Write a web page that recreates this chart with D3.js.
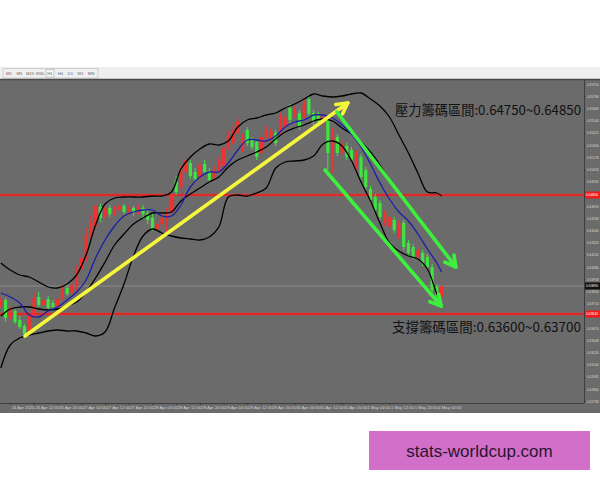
<!DOCTYPE html>
<html><head><meta charset="utf-8">
<script src="https://cdn.jsdelivr.net/npm/d3@7"></script>
<style>body{margin:0;background:#fff}svg{display:block}</style>
</head><body>
<svg id="c" width="600" height="480"></svg>
<script>
// ---- data (AUDUSD H1, prices) ----
const opens =[0.6369,0.6375,0.6357,0.6364,0.6355,0.6349,0.6342,0.6359,0.6378,0.6370,0.6376,0.6372,0.6368,0.6376,0.6387,0.6382,0.6389,0.6406,0.6417,0.6439,0.6449,0.6468,0.6458,0.6467,0.6461,0.6465,0.6469,0.6463,0.6467,0.6462,0.6467,0.6462,0.6457,0.6446,0.6451,0.6455,0.6462,0.6494,0.6488,0.6503,0.6512,0.6503,0.6498,0.6511,0.6504,0.6497,0.6504,0.6509,0.6527,0.6532,0.6542,0.6525,0.6545,0.6535,0.6533,0.6522,0.6538,0.6535,0.6542,0.6542,0.6548,0.6567,0.6559,0.6562,0.6558,0.6576,0.6562,0.6559,0.6552,0.6555,0.6525,0.6538,0.6522,0.6529,0.6525,0.6508,0.6518,0.6505,0.6486,0.6478,0.6472,0.6452,0.6448,0.6455,0.6438,0.6452,0.6432,0.6428,0.6418,0.6422,0.6418,0.6408,0.6388,0.6378];
const highs =[0.6378,0.6377,0.6368,0.6366,0.6359,0.6351,0.6361,0.6383,0.6383,0.6378,0.6379,0.6375,0.6379,0.6390,0.6392,0.6393,0.6410,0.6420,0.6447,0.6460,0.6475,0.6471,0.6472,0.6470,0.6469,0.6472,0.6471,0.6470,0.6469,0.6471,0.6470,0.6465,0.6462,0.6455,0.6461,0.6467,0.6483,0.6499,0.6509,0.6520,0.6515,0.6507,0.6513,0.6515,0.6507,0.6509,0.6519,0.6532,0.6544,0.6550,0.6558,0.6541,0.6548,0.6538,0.6536,0.6542,0.6549,0.6547,0.6545,0.6562,0.6562,0.6571,0.6569,0.6565,0.6576,0.6580,0.6565,0.6563,0.6562,0.6559,0.6547,0.6541,0.6535,0.6532,0.6528,0.6525,0.6521,0.6508,0.6489,0.6481,0.6475,0.6465,0.6461,0.6458,0.6455,0.6455,0.6435,0.6431,0.6428,0.6425,0.6421,0.6411,0.6391,0.6393];
const lows  =[0.6367,0.6353,0.6355,0.6351,0.6346,0.6338,0.6339,0.6357,0.6368,0.6368,0.6365,0.6366,0.6366,0.6375,0.6379,0.6380,0.6385,0.6402,0.6413,0.6435,0.6445,0.6453,0.6455,0.6458,0.6459,0.6462,0.6461,0.6461,0.6459,0.6460,0.6456,0.6451,0.6444,0.6443,0.6447,0.6443,0.6459,0.6480,0.6485,0.6500,0.6496,0.6493,0.6495,0.6500,0.6492,0.6494,0.6502,0.6505,0.6525,0.6530,0.6540,0.6523,0.6529,0.6525,0.6515,0.6518,0.6536,0.6532,0.6529,0.6540,0.6546,0.6552,0.6557,0.6545,0.6555,0.6558,0.6550,0.6549,0.6549,0.6505,0.6502,0.6519,0.6520,0.6515,0.6512,0.6505,0.6495,0.6485,0.6472,0.6462,0.6455,0.6449,0.6446,0.6442,0.6435,0.6425,0.6419,0.6416,0.6416,0.6409,0.6405,0.6382,0.6369,0.6376];
const closes=[0.6375,0.6357,0.6365,0.6353,0.6348,0.6341,0.6359,0.6377,0.6370,0.6375,0.6367,0.6368,0.6376,0.6385,0.6381,0.6390,0.6407,0.6417,0.6440,0.6453,0.6469,0.6457,0.6467,0.6461,0.6466,0.6469,0.6463,0.6467,0.6462,0.6468,0.6461,0.6455,0.6446,0.6451,0.6457,0.6463,0.6480,0.6483,0.6505,0.6515,0.6499,0.6496,0.6510,0.6503,0.6495,0.6505,0.6515,0.6527,0.6539,0.6545,0.6554,0.6537,0.6532,0.6528,0.6518,0.6538,0.6545,0.6544,0.6532,0.6558,0.6558,0.6555,0.6565,0.6548,0.6572,0.6561,0.6554,0.6553,0.6558,0.6522,0.6541,0.6522,0.6531,0.6518,0.6515,0.6522,0.6498,0.6488,0.6475,0.6465,0.6458,0.6462,0.6458,0.6445,0.6452,0.6428,0.6422,0.6418,0.6425,0.6412,0.6408,0.6385,0.6372,0.6389];

// indicator samples (bar index -> price)
const lineIdx=[0,2,4,6,8,10,12,14,16,18,20,22,24,26,28,30,32,34,36,38,40,42,44,46,48,50,52,54,56,58,60,62,64,66,68,70,72,74,76,78,80,82,84,86,88,90,92,93];
const bbUpper =[0.6412,0.6405,0.6400,0.6398,0.6393,0.6388,0.6387,0.6391,0.6400,0.6420,0.6450,0.6471,0.6477,0.6478,0.6478,0.6478,0.6479,0.6479,0.6483,0.6506,0.6518,0.6526,0.6531,0.6530,0.6534,0.6548,0.6555,0.6557,0.6560,0.6562,0.6567,0.6571,0.6576,0.6581,0.6579,0.6578,0.6579,0.6581,0.6582,0.6576,0.6569,0.6558,0.6540,0.6522,0.6502,0.6483,0.6482,0.6479];
const bbMiddle=[0.6359,0.6366,0.6368,0.6368,0.6366,0.6365,0.6366,0.6369,0.6373,0.6383,0.6397,0.6413,0.6430,0.6441,0.6451,0.6457,0.6462,0.6462,0.6463,0.6474,0.6481,0.6487,0.6493,0.6498,0.6508,0.6515,0.6519,0.6523,0.6528,0.6536,0.6543,0.6547,0.6550,0.6554,0.6556,0.6554,0.6547,0.6541,0.6533,0.6523,0.6510,0.6495,0.6482,0.6470,0.6459,0.6445,0.6432,0.6425];
const bbLower =[0.6307,0.6330,0.6337,0.6340,0.6342,0.6344,0.6345,0.6344,0.6344,0.6342,0.6339,0.6343,0.6367,0.6391,0.6419,0.6439,0.6446,0.6442,0.6439,0.6437,0.6436,0.6435,0.6438,0.6448,0.6478,0.6480,0.6479,0.6482,0.6487,0.6507,0.6513,0.6514,0.6515,0.6519,0.6531,0.6534,0.6529,0.6514,0.6493,0.6474,0.6452,0.6432,0.6424,0.6419,0.6416,0.6406,0.6381,0.6371];
const maBlue  =[0.6382,0.6378,0.6372,0.6360,0.6358,0.6364,0.6368,0.6375,0.6383,0.6395,0.6417,0.6435,0.6449,0.6459,0.6463,0.6465,0.6465,0.6459,0.6459,0.6470,0.6488,0.6498,0.6503,0.6503,0.6512,0.6525,0.6535,0.6535,0.6534,0.6539,0.6548,0.6553,0.6555,0.6560,0.6560,0.6557,0.6550,0.6541,0.6528,0.6511,0.6492,0.6476,0.6463,0.6454,0.6441,0.6426,0.6412,0.6403];

const priceTicks=[0.65910,0.65788,0.65666,0.65544,0.65422,0.65300,0.65178,0.65056,0.64934,0.64812,0.64690,0.64568,0.64446,0.64324,0.64202,0.64080,0.63958,0.63836,0.63714,0.63592,0.63470,0.63348,0.63226,0.63104,0.62982,0.62860,0.62738];
const timeLabelIdx=[2,7,12,17,22,27,32,37,42,47,52,57,62,67,72,77,82,87,92];
const timeLabels=["24 Apr 2020","26 Apr 12:00","26 Apr 20:00","27 Apr 04:00","27 Apr 12:00","27 Apr 20:00","28 Apr 04:00","28 Apr 12:00","28 Apr 20:00","29 Apr 04:00","29 Apr 12:00","29 Apr 20:00","30 Apr 04:00","30 Apr 12:00","30 Apr 20:00","1 May 04:00","1 May 12:00","1 May 20:00","4 May 04:00"];
const timeframes=["M1","M5","M15","M30","H1","H4","D1","W1","MN"];

const resistanceLevel=0.6480, supportLevel=0.6361, bidPrice=0.6389;
const yellowArrow=[[5.1,0.6339],[73.2,0.6572]];
const greenUpper=[[70.9,0.6563],[96.0,0.6408]];
const greenLower=[[68.4,0.6505],[92.9,0.6369]];
const resistanceText="壓力籌碼區間:0.64750~0.64850";
const supportText="支撐籌碼區間:0.63600~0.63700";
const watermark="stats-worldcup.com";

// ---- layout ----
const svg=d3.select("#c");
const plotL=0, plotR=584, plotT=80, plotB=403;
const x=d3.scaleLinear().domain([0,93]).range([0.8,441.6]);
const y=d3.scaleLinear().domain([0.6271,0.6596]).range([404,79]);

// toolbar
svg.append("rect").attr("x",0).attr("y",67).attr("width",600).attr("height",12).attr("fill","#efefef");
svg.append("rect").attr("x",3).attr("y",68.5).attr("width",95).attr("height",9.5).attr("fill","none").attr("stroke","#c9c9c9").attr("stroke-width",0.8);
const bx=[4,15,25,35,46,56,66,76,86];
const bw=[10,9,10,10,8,9,9,9,10];
timeframes.forEach((t,i)=>{
  if(t==="H1") svg.append("rect").attr("x",bx[i]).attr("y",69.5).attr("width",bw[i]).attr("height",7.5).attr("fill","#f7f7f7").attr("stroke","#aaa").attr("stroke-width",0.6);
  svg.append("text").attr("x",bx[i]+bw[i]/2).attr("y",75.3).attr("text-anchor","middle")
    .attr("font-family","Liberation Sans, Arial").attr("font-size",4.2).attr("fill","#666").text(t);
});

// chart background
svg.append("rect").attr("x",0).attr("y",79).attr("width",600).attr("height",334).attr("fill","#6b6b6b");
svg.append("line").attr("x1",0).attr("x2",600).attr("y1",79.5).attr("y2",79.5).attr("stroke","#4a4a4a").attr("stroke-width",1.4);
svg.append("line").attr("x1",plotR+0.5).attr("x2",plotR+0.5).attr("y1",80).attr("y2",plotB).attr("stroke","#3e3e3e").attr("stroke-width",1);
svg.append("line").attr("x1",0).attr("x2",plotR).attr("y1",plotB+0.5).attr("y2",plotB+0.5).attr("stroke","#3e3e3e").attr("stroke-width",1);

const plot=svg.append("g");
plot.append("clipPath").attr("id","clip").append("rect").attr("x",plotL).attr("y",plotT).attr("width",plotR-plotL).attr("height",plotB-plotT);

// bid line
plot.append("line").attr("x1",0).attr("x2",plotR).attr("y1",y(bidPrice)).attr("y2",y(bidPrice)).attr("stroke","#8d8d8d").attr("stroke-width",1);
// support / resistance lines
[resistanceLevel,supportLevel].forEach(v=>{
  plot.append("line").attr("x1",0).attr("x2",plotR).attr("y1",y(v)).attr("y2",y(v)).attr("stroke","#ff3030").attr("stroke-opacity",0.45).attr("stroke-width",3);
  plot.append("line").attr("x1",0).attr("x2",plotR).attr("y1",y(v)).attr("y2",y(v)).attr("stroke","#f01c1c").attr("stroke-width",1.3);
});

// candles
const bars=d3.range(opens.length).map(i=>({i,o:opens[i],h:highs[i],l:lows[i],c:closes[i]}));
const cg=plot.append("g").attr("clip-path","url(#clip)");
const col=d=>d.c>=d.o?"#f23030":"#3fe43f";
cg.selectAll("line.w").data(bars).join("line").attr("class","w")
  .attr("x1",d=>x(d.i)).attr("x2",d=>x(d.i)).attr("y1",d=>y(d.h)).attr("y2",d=>y(d.l))
  .attr("stroke",col).attr("stroke-width",1);
cg.selectAll("rect.b").data(bars).join("rect").attr("class","b")
  .attr("x",d=>x(d.i)-1.6).attr("width",3.2)
  .attr("y",d=>y(Math.max(d.o,d.c))).attr("height",d=>Math.max(1,Math.abs(y(d.o)-y(d.c))))
  .attr("fill",col);

// indicator lines
const mk=arr=>d3.line().x((d,k)=>x(lineIdx[k])).y(d=>y(d)).curve(d3.curveCatmullRom.alpha(0.5))(arr);
[[bbUpper,"#000"],[bbMiddle,"#000"],[bbLower,"#000"],[maBlue,"#1b1fa8"]].forEach(([a,c])=>{
  cg.append("path").attr("d",mk(a)).attr("fill","none").attr("stroke",c).attr("stroke-width",1.3);
});

// arrows
function arrow(pts,color,w){
  const a=[x(pts[0][0]),y(pts[0][1])], b=[x(pts[1][0]),y(pts[1][1])];
  const g=svg.append("g").attr("stroke",color).attr("stroke-width",w).attr("stroke-linecap","round").attr("fill","none");
  g.append("line").attr("x1",a[0]).attr("y1",a[1]).attr("x2",b[0]).attr("y2",b[1]);
  const ang=Math.atan2(b[1]-a[1],b[0]-a[0]);
  [-0.5,0.5].forEach(s=>{
    g.append("line").attr("x1",b[0]).attr("y1",b[1])
      .attr("x2",b[0]-12*Math.cos(ang+s)).attr("y2",b[1]-12*Math.sin(ang+s));
  });
}
arrow(yellowArrow,"#f6f63c",3.6);
arrow(greenUpper,"#3ef03e",3.6);
arrow(greenLower,"#3ef03e",3.6);

// annotations
svg.append("text").attr("x",395).attr("y",115).attr("font-family","Noto Sans CJK TC, Noto Sans CJK SC, sans-serif")
  .attr("font-size",13.2).attr("fill","#111").attr("textLength",186).attr("lengthAdjust","spacingAndGlyphs").text(resistanceText);
svg.append("text").attr("x",392).attr("y",332).attr("font-family","Noto Sans CJK TC, Noto Sans CJK SC, sans-serif")
  .attr("font-size",13.2).attr("fill","#111").attr("textLength",189).attr("lengthAdjust","spacingAndGlyphs").text(supportText);

// right price axis (ticks hidden behind the price tags are skipped)
const tags=[resistanceLevel,supportLevel,bidPrice];
const visTicks=priceTicks.filter(t=>tags.every(v=>Math.abs(y(t)-y(v))>5));
const ay=svg.append("g").attr("transform",`translate(${plotR},0)`)
  .call(d3.axisRight(y).tickValues(visTicks).tickFormat(d3.format(".5f")).tickSize(1.5).tickPadding(1));
ay.select(".domain").remove();
ay.selectAll("line").attr("stroke","#3a3a3a");
ay.selectAll("text").attr("font-size",3.4).attr("fill","#d4d4d4").attr("font-family","Liberation Sans, Arial");
function priceTag(v,bg){
  svg.append("rect").attr("x",plotR+1).attr("y",y(v)-3.5).attr("width",15).attr("height",7).attr("fill",bg);
  svg.append("text").attr("x",plotR+2).attr("y",y(v)+1.2).attr("font-size",3.4).attr("fill","#fff")
    .attr("font-family","Liberation Sans, Arial").text(d3.format(".5f")(v));
}
priceTag(resistanceLevel,"#f01c1c");
priceTag(supportLevel,"#f01c1c");
priceTag(bidPrice,"#111");

// bottom time axis
const ax=svg.append("g").attr("transform",`translate(0,${plotB})`)
  .call(d3.axisBottom(x).tickValues(timeLabelIdx).tickFormat((d,i)=>timeLabels[i]).tickSize(2).tickPadding(1.5));
ax.select(".domain").remove();
ax.selectAll("line").attr("stroke","#3a3a3a");
ax.selectAll("text").attr("text-anchor","start").attr("dx",1).attr("font-size",4.2).attr("fill","#d4d4d4").attr("font-family","Liberation Sans, Arial");

// watermark
svg.append("rect").attr("x",369).attr("y",431).attr("width",221).attr("height",39).attr("fill","#d16fc9");
svg.append("text").attr("x",479.5).attr("y",456.5).attr("text-anchor","middle").attr("font-family","Liberation Sans, Arial")
  .attr("font-size",17).attr("fill","#2a1630").text(watermark);
</script>
</body></html>
